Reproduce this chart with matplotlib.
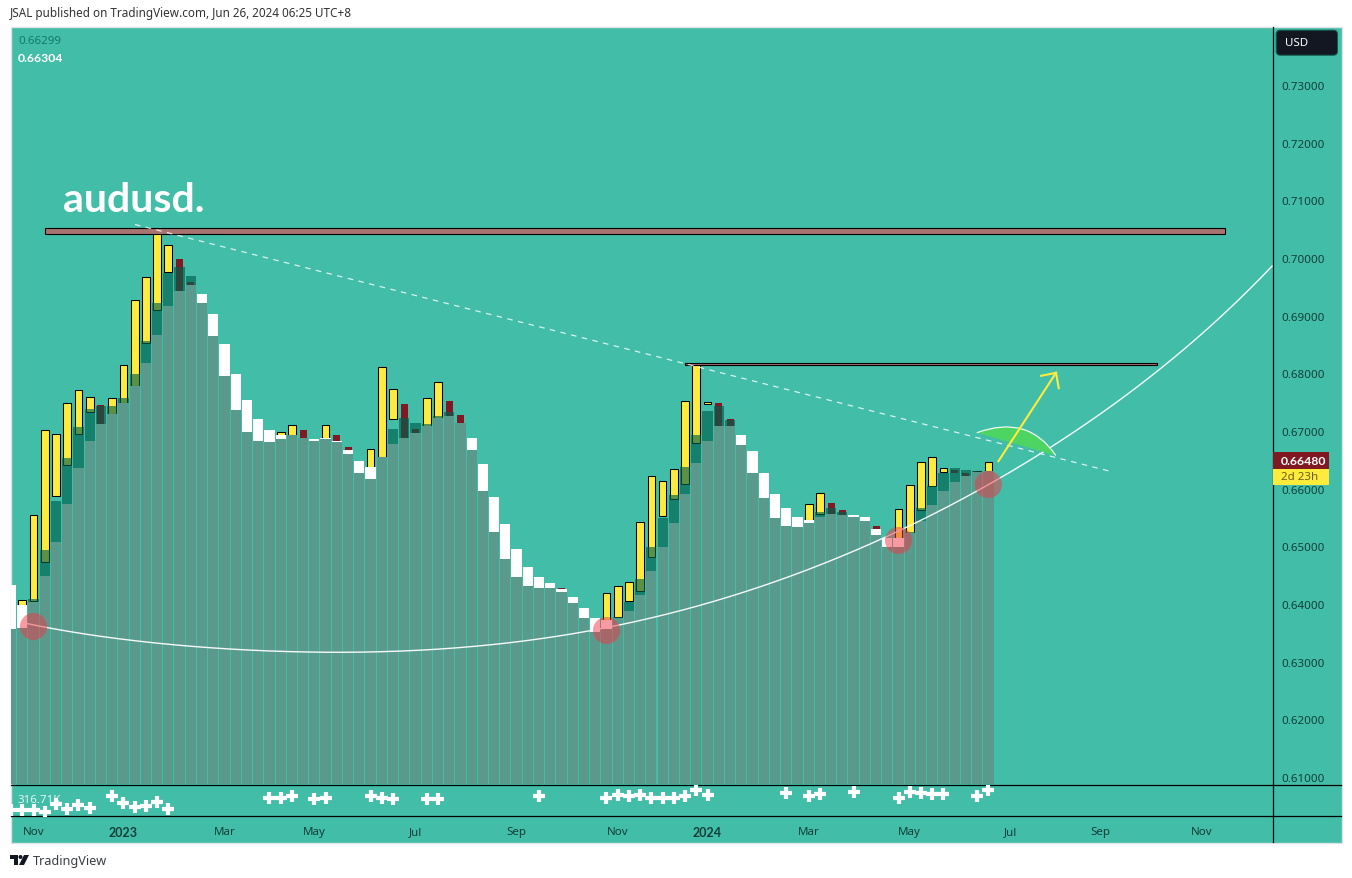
import numpy as np
import matplotlib
matplotlib.use("Agg")
import matplotlib.pyplot as plt
from matplotlib.lines import Line2D
from matplotlib.patches import Rectangle, FancyBboxPatch, PathPatch, Polygon, Circle
from matplotlib.path import Path

nan = float("nan")
plt.rcParams["font.family"] = ["Noto Sans", "DejaVu Sans"]
plt.rcParams["lines.scale_dashes"] = False
BOLD = ["Lato", "DejaVu Sans"]

# ---- weekly data -----------------------------------------------------------
wide_open = [.64321,.63991,.64043,.64494,.65072,.65726,.66350,.66835,.67113,.67286,
             .67477,.67777,.68171,.68673,.69159,.69419,.69523,.69384,.69020,.68517,
             .67980,.67529,.67200,.67009,.66922,.66927,.66882,.66853,.66870,.66835,
             .66679,.66471,.66384,.66541,.66766,.66887,.66957,.67078,.67222,.67252,
             .67130,.66870,.66419,.65864,.65379,.64945,.64633,.64460,.64356,.64252,
             .64113,.63939,.63749,.63714,.63749,.63870,.64148,.64564,.64997,.65413,
             .65899,.66437,.66835,.67078,.67095,.66939,.66645,.66263,.65899,.65656,
             .65500,.65448,.65517,.65552,.65535,.65535,.65500,.65309,.65153,.65136,
             .65228,.65431,.65708,.65951,.66124,.66228,.66293,.66298]
wide_close = [.63558,.63587,.64078,.64928,.65778,.66523,.67061,.67373,.67425,.67425,
              .67564,.67980,.68557,.69228,.69731,.69835,.69679,.69228,.68639,.67945,
              .67356,.66991,.66818,.66801,.66853,.66939,.66887,.66835,.66853,.66801,
              .66593,.66263,.66159,.66545,.67026,.67217,.67147,.67113,.67252,.67321,
              .67139,.66662,.65951,.65257,.64772,.64460,.64304,.64286,.64286,.64200,
              .64009,.63749,.63523,.63575,.63766,.64026,.64425,.64980,.65483,.65882,
              .66367,.66939,.67338,.67425,.67182,.66749,.66280,.65830,.65483,.65344,
              .65327,.65413,.65587,.65656,.65587,.65517,.65431,.65188,.64980,.64997,
              .65240,.65656,.66038,.66280,.66350,.66332,.66298,.66303]
candle_open = [nan,.63991,.64049,.64725,.65876,.66407,.66945,.67326,.67442,.67286,
               .67477,.67777,.68523,.69095,.69754,.69974,.69575,nan,nan,nan,
               nan,nan,nan,nan,.66922,.66927,.67009,nan,.66870,.66922,
               .66714,nan,.66384,.66541,.67212,.67460,.67043,.67083,.67222,.67512,
               .67269,nan,nan,nan,nan,nan,nan,nan,nan,.64286,
               nan,nan,nan,.63714,.63783,.64049,.64222,.64819,.65523,.65817,
               .66078,.66789,.67465,.67477,.67200,nan,nan,nan,nan,nan,
               nan,.65448,.65564,.65743,.65622,nan,nan,.65361,nan,.65136,
               .65228,.65634,.66043,.66286,.66315,.66280,.66289,.66303]
candle_close = [nan,.64073,.65547,.67021,.66952,.67489,.67715,.67593,.67113,.67576,
                .68148,.69275,.69674,.70434,.70229,.69419,.69523,nan,nan,nan,
                nan,nan,nan,nan,.66986,.67108,.66882,nan,.67108,.66835,
                .66679,nan,.66691,.68113,.67732,.66887,.66957,.67576,.67853,.67252,
                .67130,nan,nan,nan,nan,nan,nan,nan,nan,.64252,
                nan,nan,nan,.64194,.64316,.64385,.65426,.66223,.66137,.66345,
                .67524,.68153,.67506,.67078,.67095,nan,nan,nan,nan,nan,
                nan,.65738,.65928,.65552,.65535,nan,nan,.65309,nan,.65639,
                .66055,.66466,.66553,.66362,.66263,.66228,.66303,.66465]

volume_index = [0,1,2,3,4,5,6,7,9,10,11,12,13,14,23,24,25,27,28,32,33,34,37,38,47,
                53,54,55,56,57,58,59,60,61,62,69,71,72,75,79,80,81,82,83,86,87]
volume_k = [97,97,97,64,232,130,199,149,373,246,161,180,265,130,348,342,373,310,348,
            373,348,329,310,323,373,348,406,387,406,348,348,348,387,490,406,426,387,
            412,451,348,451,426,412,412,368,503]

price_ticks = [.61,.62,.63,.64,.65,.66,.67,.68,.69,.70,.71,.72,.73]
time_ticks = [2,10,19,27,36,45,54,62,71,80,89,97,106]
time_labels = ["Nov","2023","Mar","May","Jul","Sep","Nov","2024","Mar","May","Jul","Sep","Nov"]
bold_time_labels = {"2023","2024"}

# drawings (time index, price)
zone_top = (3.05, 108.07, .70413, .70524)
zone_mid = (60.02, 101.99, .68141, .68183)
trend_t = [11.03, 97.8]
trend_p = [.70581, .66303]
curve_t = [.97,3.17,7.92,16.82,25.72,29.28,37.29,44.12,51.24,54.81,59.55,71.12,
           77.62,81.18,85.96,88.93,92.49,97.83,104.06,112.25]
curve_p = [.63688,.63575,.63454,.63251,.63164,.63159,.63223,.63333,.63518,.63645,
           .63887,.64611,.65153,.65465,.65986,.66280,.66679,.67408,.68384,.69853]
touch_t = [1.98, 52.96, 78.93, 86.94]
touch_p = [.63627, .63553, .65113, .66085]
arc_t = [85.96, 90.51, 93.0]
arc_p = [.66969, .67297, .66575]
arrow_t = [87.89, 93.02]
arrow_p = [.66476, .68009]
wing_t = [91.69, 93.02, 93.26]
wing_p = [.67957, .68009, .67742]

# ---- colours ---------------------------------------------------------------
BG = "#42bda8"; GREY = "#5a9a8c"; YEL = "#ffeb3b"; RED = "#801922"
TXT = "#123f38"; TEAL = (0/255, 94/255, 76/255, .645)

W, H = 1352, 879
fig = plt.figure(figsize=(W/100, H/100), dpi=100, facecolor="white")
def fx(x): return x / W
def fy(y): return 1 - y / H
def box(x0, y0, x1, y1): return [fx(x0), fy(y1), (x1-x0)/W, (y1-y0)/H]

fig.add_artist(Rectangle((fx(10.5), fy(843.5)), 1331/W, 816/H, transform=fig.transFigure,
                         facecolor=BG, edgecolor="#dfe3e8", lw=1, zorder=-5))

ax = fig.add_axes(box(11, 27.5, 1272.5, 785.5), facecolor="none")
vol = fig.add_axes(box(11, 785.5, 1272.5, 816.5), facecolor="none", sharex=ax)

t = np.arange(len(wide_open))
wo, wc = np.array(wide_open), np.array(wide_close)
co, cc = np.array(candle_open), np.array(candle_close)
ymin, ymax = .60870, .74014

# narrow candles (below)
up = cc >= co
ax.bar(t[up], (cc-co)[up], bottom=co[up], width=.69, color=YEL, edgecolor="black", lw=.75, zorder=2)
dn = cc < co
ax.bar(t[dn], (co-cc)[dn], bottom=cc[dn], width=.62, color=RED, lw=0, zorder=2)
# wide layer
low = np.minimum(wo, wc)
ax.bar(t, low-ymin, bottom=ymin, width=.91, color=GREY, lw=0, zorder=3)
wup = wc >= wo
ax.bar(t[wup], (wc-wo)[wup], bottom=wo[wup], width=.91, color=[TEAL], lw=0, zorder=3)
ax.bar(t[~wup], (wo-wc)[~wup], bottom=wc[~wup], width=.91, color="white", lw=0, zorder=3)

# drawings
for x0, x1, y0, y1 in (zone_top, zone_mid):
    ax.add_patch(Rectangle((x0, y0), x1-x0, y1-y0, facecolor="#a77470", edgecolor="black", lw=.8, zorder=5))
ax.plot(trend_t, trend_p, color="white", alpha=.8, lw=.9, dashes=(4, 3.9), zorder=6)
coef = np.polyfit(np.array(curve_t)/100, curve_p, 6)
ct = np.linspace(curve_t[0], curve_t[-1], 400)
ax.plot(ct, np.polyval(coef, ct/100), color="white", lw=1.0, alpha=.95, zorder=6)
ax.scatter(touch_t, touch_p, s=380, color="#f23645", alpha=.5, lw=0, zorder=7)
verts = list(zip(arc_t, arc_p))
ax.add_patch(PathPatch(Path(verts + [verts[0]], [Path.MOVETO, Path.CURVE3, Path.CURVE3, Path.LINETO]),
                       facecolor="#4dd463", edgecolor="none", zorder=6))
ax.add_patch(PathPatch(Path(verts, [Path.MOVETO, Path.CURVE3, Path.CURVE3]),
                       facecolor="none", edgecolor="white", lw=.9, alpha=.9, zorder=6))
ax.plot(arrow_t, arrow_p, color=YEL, lw=1.5, zorder=8)
ax.plot(wing_t, wing_p, color=YEL, lw=1.5, zorder=8, solid_joinstyle="miter")

ax.set_xlim(-.006, 112.29)
ax.set_ylim(ymin, ymax)
ax.yaxis.tick_right()
ax.set_yticks(price_ticks, [f"{p:.5f}" for p in price_ticks])
ax.tick_params(axis="y", length=0, pad=6.2, labelsize=8.3, labelcolor=TXT)
ax.tick_params(axis="x", length=0, labelbottom=False)
for s in ("top", "left"):
    ax.spines[s].set_visible(False); vol.spines[s].set_visible(False)
for a in (ax, vol):
    for s in ("bottom", "right"):
        a.spines[s].set_color("black"); a.spines[s].set_linewidth(.9)

vol.scatter(volume_index, volume_k, marker="+", s=64, color="white", lw=3.0, zorder=3)
vol.set_ylim(0, 600)
vol.set_yticks([])
vol.set_xticks(time_ticks, time_labels)
vol.tick_params(axis="x", length=0, pad=7.5, labelsize=8.3, labelcolor=TXT)
for lab in vol.get_xticklabels():
    if lab.get_text() in bold_time_labels:
        lab.set_family(BOLD); lab.set_fontweight("bold"); lab.set_fontsize(9.0)

# frame extensions
for x0, y0, x1, y1 in ((1272.5, 816.5, 1272.5, 843), (1272.5, 785.5, 1341, 785.5), (1272.5, 816.5, 1341, 816.5)):
    fig.add_artist(Line2D([fx(x0), fx(x1)], [fy(y0), fy(y1)],
                          color="black", lw=.9, transform=fig.transFigure, zorder=5))

# texts
fig.text(fx(10), fy(14), "JSAL published on TradingView.com, Jun 26, 2024 06:25 UTC+8",
         fontsize=8.45, color="#333333", va="center")
fig.text(fx(18), fy(41), "0.66299", fontsize=8.3, color="#157a69", va="center")
fig.text(fx(18), fy(59), "0.66304", fontsize=8.8, color="white", family=BOLD, weight="bold", va="center")
fig.text(fx(63), fy(211.5), "audusd.", fontsize=29.5, color="white", family=BOLD, weight="bold", va="baseline")
fig.text(fx(18), fy(800.5), "316.71K", fontsize=8.3, color="white", alpha=.85, va="center", zorder=6)

# price tags
fig.add_artist(Rectangle((fx(1273), fy(470)), 55.7/W, 16.7/H, transform=fig.transFigure, fc=RED, lw=0, zorder=6))
fig.add_artist(Rectangle((fx(1273), fy(486)), 55.7/W, 16/H, transform=fig.transFigure, fc=YEL, lw=0, zorder=6))
fig.text(fx(1281), fy(461.8), "0.66480", fontsize=8.8, color="white", family=BOLD, weight="bold", va="center", zorder=7)
fig.text(fx(1281), fy(478), "2d 23h", fontsize=8.3, color="#6b5f1e", va="center", zorder=7)

# USD button
btn = fig.add_axes(box(1275.7, 30.7, 1338, 56.7), facecolor="none", zorder=6)
btn.axis("off"); btn.set_xlim(0, 62.3); btn.set_ylim(0, 26)
btn.add_patch(FancyBboxPatch((3.5, 3.5), 55.3, 19, boxstyle="round,pad=3,rounding_size=4",
                             fc="#131722", ec="#0f5a4e", lw=.7, clip_on=False))
btn.text(9.5, 13, "USD", color="white", fontsize=8.3, va="center")

# logo
lg = fig.add_axes(box(10, 856, 29, 866), facecolor="none", zorder=6)
lg.axis("off"); lg.set_xlim(0, 19); lg.set_ylim(10, 0)
lg.add_patch(Polygon([(0,0),(8,0),(8,10),(4,10),(4,4),(0,4)], fc="#131722", lw=0))
lg.add_patch(Circle((10.5, 2), 2, fc="#131722", lw=0))
lg.add_patch(Polygon([(14,0),(19,0),(14,10),(9,10)], fc="#131722", lw=0))
fig.text(fx(33), fy(861.5), "TradingView", fontsize=9.1, color="#3a3d45", va="center")

fig.savefig("out.png", dpi=100, facecolor="white")
